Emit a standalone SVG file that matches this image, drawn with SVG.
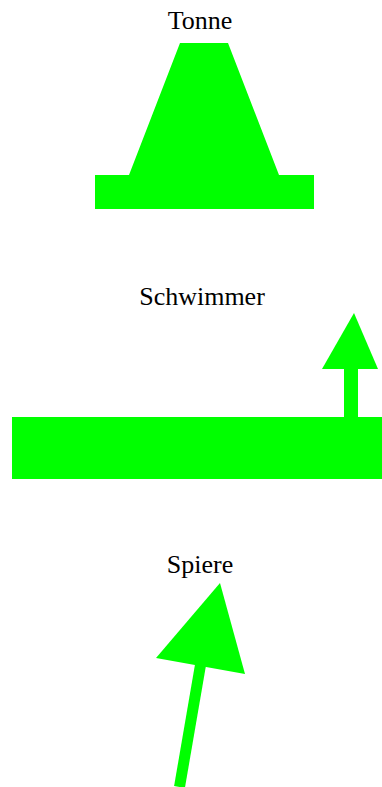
<svg xmlns="http://www.w3.org/2000/svg" width="382" height="787" viewBox="0 0 382 787">
<style>
.lbl{font-family:"Liberation Serif","Times New Roman",serif;font-size:26px;fill:#000;text-anchor:middle}
.g{fill:#00ff00}
</style>
<rect width="382" height="787" fill="#fff"/>
<g id="tonne">
<text class="lbl" x="200" y="29">Tonne</text>
<polygon class="g" points="180,43 228,43 279,175 314,175 314,209 95,209 95,175 129,175"/>
</g>
<g id="schwimmer">
<text class="lbl" x="202" y="305">Schwimmer</text>
<rect class="g" x="12" y="417" width="370" height="62"/>
<rect class="g" x="344" y="368" width="14" height="50"/>
<polygon class="g" points="354,313 378,369 322,369"/>
</g>
<g id="spiere">
<text class="lbl" x="200" y="573">Spiere</text>
<line x1="201" y1="662" x2="179.5" y2="787" stroke="#00ff00" stroke-width="11"/>
<polygon class="g" points="220,583 245,674 156,658"/>
</g>
</svg>
